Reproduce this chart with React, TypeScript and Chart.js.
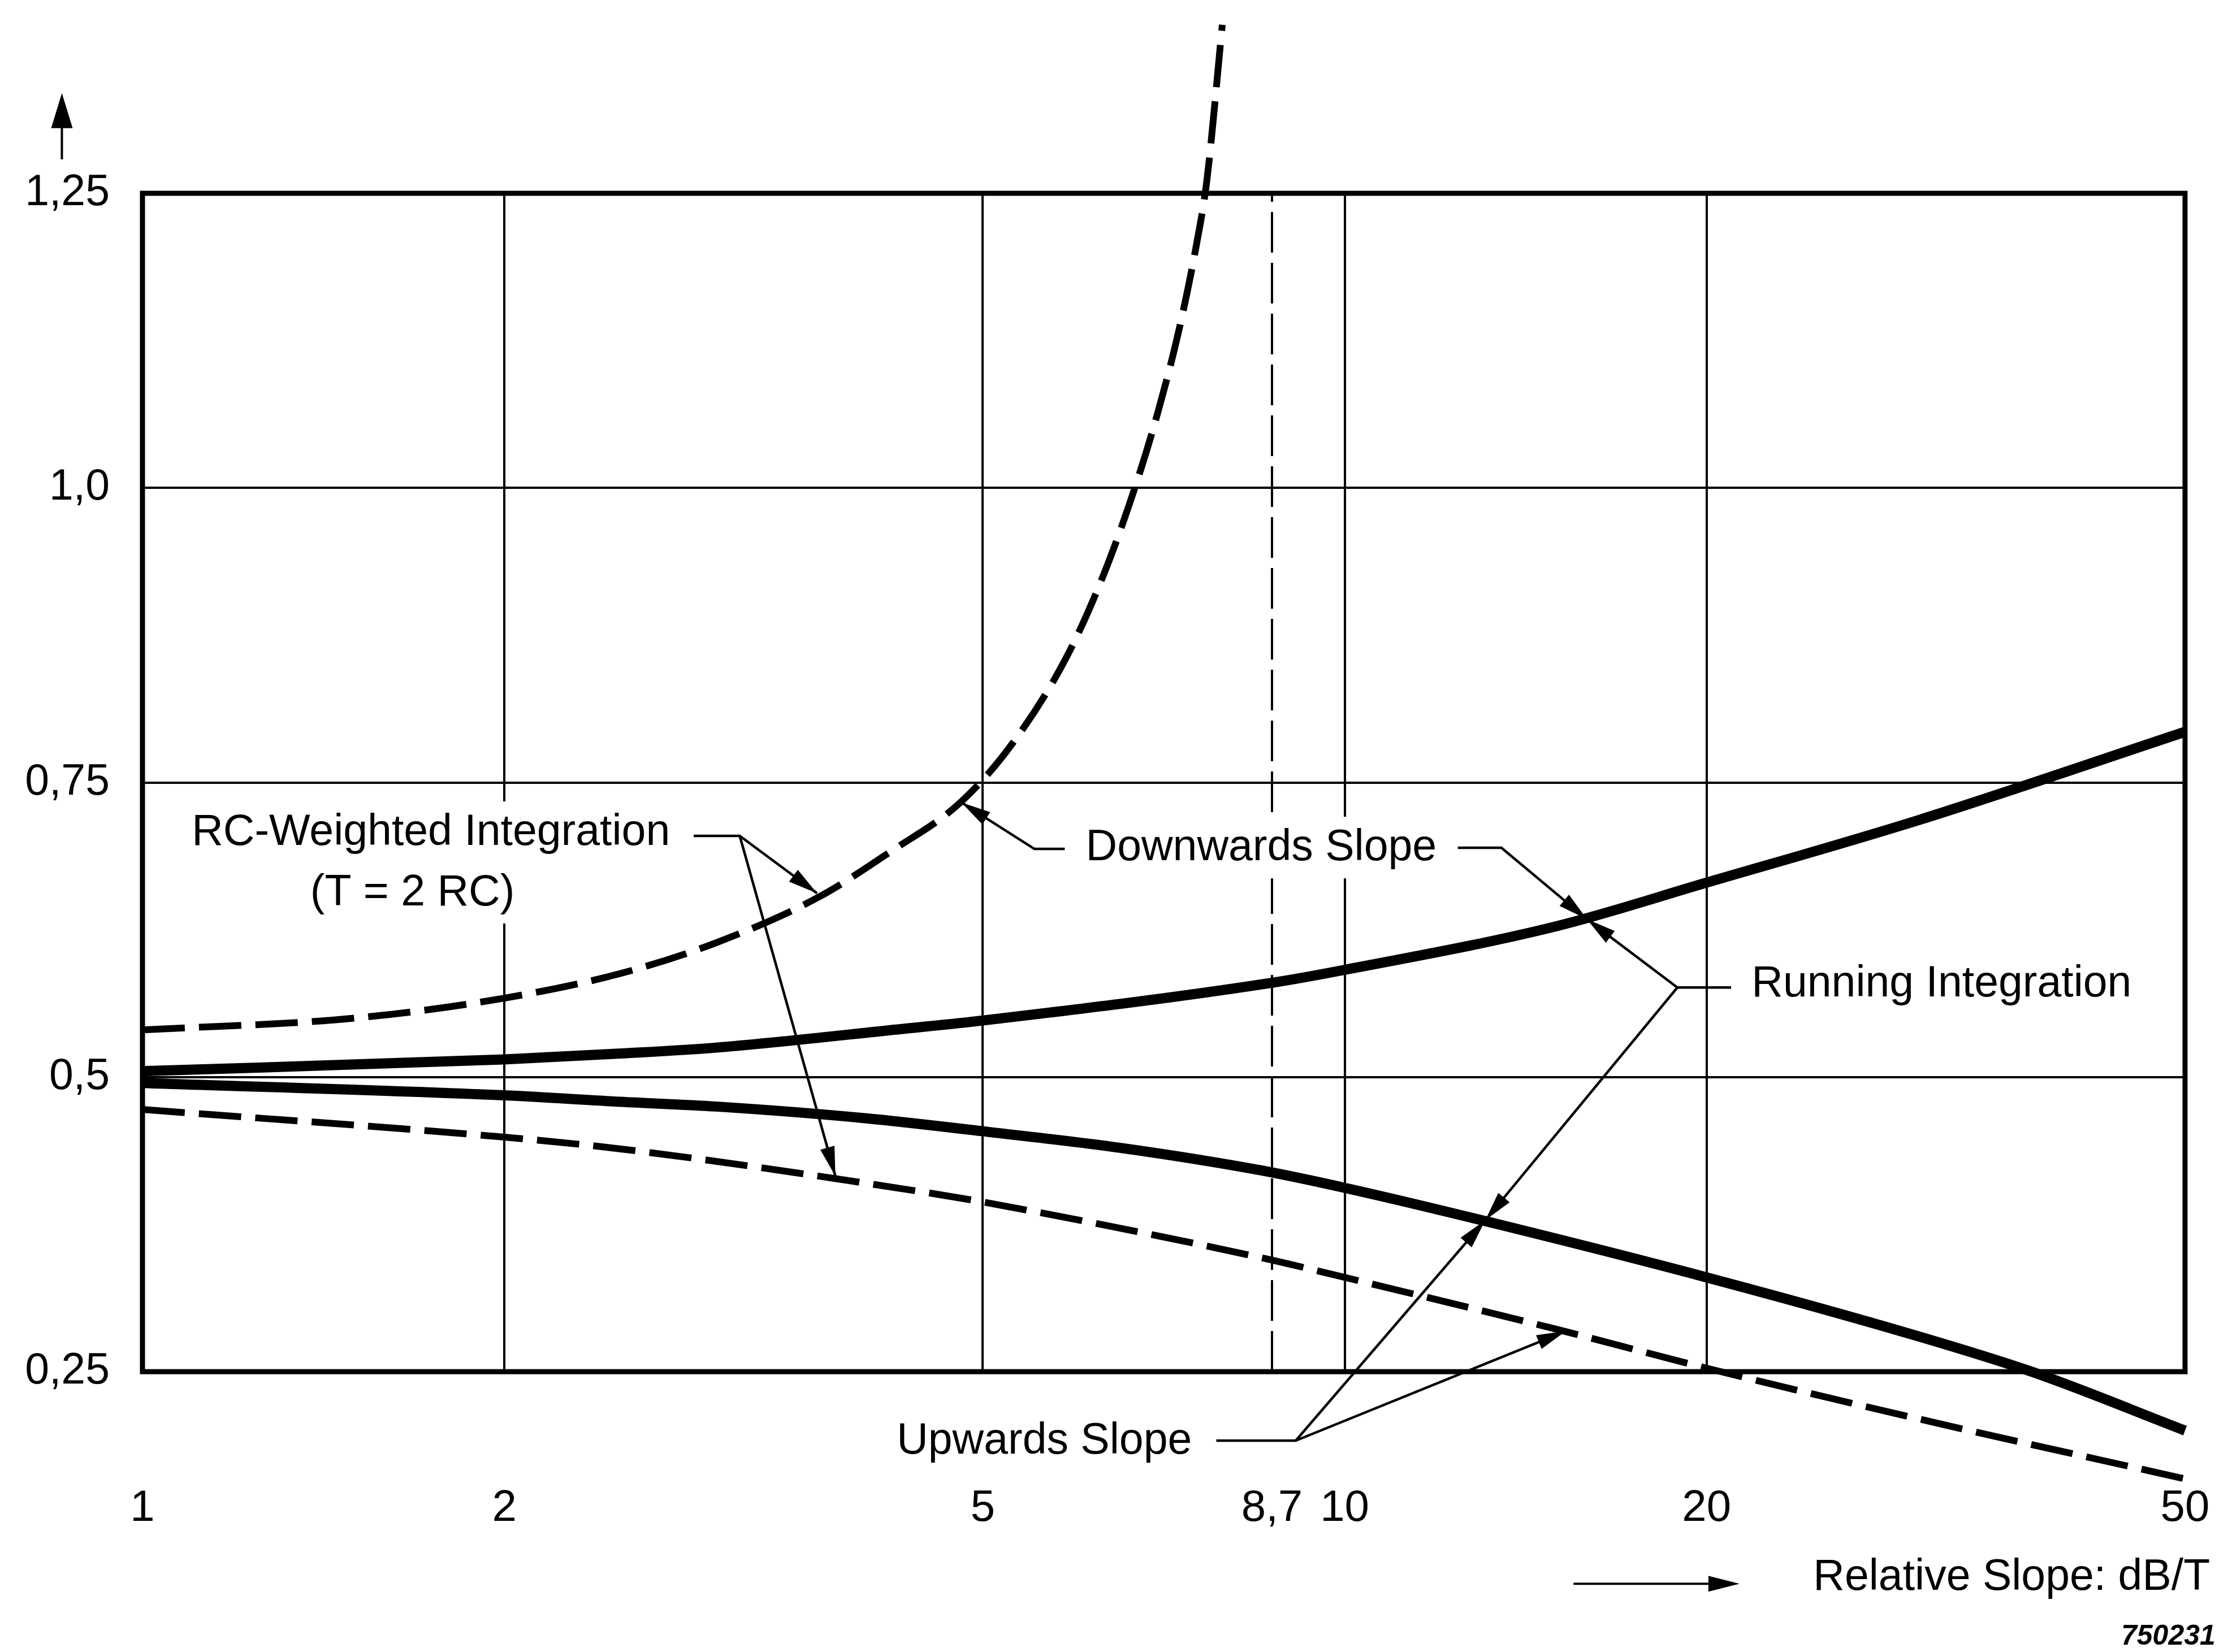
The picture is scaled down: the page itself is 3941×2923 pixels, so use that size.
import React, { useEffect, useRef } from 'react';
import { Chart, registerables } from 'chart.js';

Chart.register(...registerables);

const FONT = "'Liberation Sans', Arial, Helvetica, sans-serif";

// ---- axes ----
const X_TICKS = [1, 2, 5, 8.7, 10, 20, 50];
const X_TICK_LABELS = ['1', '2', '5', '8,7', '10', '20', '50'];
const Y_TICKS = [0.25, 0.5, 0.75, 1.0, 1.25];
const Y_TICK_LABELS = ['0,25', '0,5', '0,75', '1,0', '1,25'];
const MARKER_X = 8.7;

// ---- Running integration, downwards slope (upper solid) ----
const RUN_DOWN_X = [1, 2, 2.5, 3, 4.3, 5, 8.7, 10, 15, 20, 30, 50];
const RUN_DOWN_Y = [0.505, 0.515, 0.52, 0.525, 0.541, 0.548, 0.58, 0.591, 0.628, 0.665, 0.718, 0.793];

// ---- Running integration, upwards slope (lower solid) ----
const RUN_UP_X = [1, 2, 2.5, 3, 4, 5, 6.5, 8.5, 10, 13, 20, 30, 37.5, 50];
const RUN_UP_Y = [0.495, 0.4845, 0.479, 0.475, 0.465, 0.454, 0.44, 0.421, 0.406, 0.3785, 0.33, 0.28, 0.249, 0.2];

// ---- RC-weighted integration, downwards slope (upper dashed) ----
const RC_DOWN_X = [1, 1.5, 2, 2.5, 3, 3.64, 4.2, 4.79, 5.3, 5.86, 6.3, 6.71, 7.0, 7.28, 7.53, 7.68, 7.91];
const RC_DOWN_Y = [0.54, 0.55, 0.567, 0.588, 0.614, 0.652, 0.692, 0.733, 0.784, 0.855, 0.926, 1.004, 1.066, 1.134, 1.207, 1.261, 1.393];

// ---- RC-weighted integration, upwards slope (lower dashed) ----
const RC_UP_X = [1, 2, 2.5, 4.3, 5, 8.5, 10, 15, 20, 30, 50];
const RC_UP_Y = [0.4725, 0.449, 0.439, 0.405, 0.394, 0.347, 0.33, 0.286, 0.253, 0.21, 0.159];

// ---- annotations (data coordinates) ----
type Pt = [number, number];
const LEADERS: Pt[][] = [
  [[2.874, 0.7047], [3.139, 0.7047], [3.64, 0.656]],
  [[3.139, 0.7047], [3.77, 0.416]],
  [[5.85, 0.6936], [5.52, 0.6936], [4.8, 0.733]],
  [[12.42, 0.6946], [13.5, 0.6946], [15.9, 0.634]],
  [[20.96, 0.576], [18.91, 0.576], [15.9, 0.634]],
  [[18.91, 0.576], [13.09, 0.3785]],
  [[7.82, 0.1915], [9.105, 0.1915], [13.09, 0.3785]],
  [[9.105, 0.1915], [15.28, 0.2845]],
];

const LABELS: { text: string; x: number; y: number; box: boolean }[] = [
  { text: 'RC-Weighted Integration', x: 1.099, y: 0.697, box: true },
  { text: '(T = 2 RC)', x: 1.379, y: 0.6457, box: true },
  { text: 'Downwards Slope', x: 6.09, y: 0.684, box: true },
  { text: 'Running Integration', x: 21.8, y: 0.5685, box: false },
  { text: 'Upwards Slope', x: 4.24, y: 0.1805, box: false },
  { text: 'Relative Slope: dB/T', x: 24.53, y: 0.0649, box: false },
];

const Y_ARROW: Pt[] = [[0.857, 1.2788], [0.857, 1.335]];
const X_ARROW: Pt[] = [[15.5, 0.07], [21.3, 0.07]];
const FIGURE_ID = { text: '750231', x: 53.0, y: 0.0183 };

const toPoints = (xs: number[], ys: number[]) => xs.map((x, i) => ({ x, y: ys[i] }));

function drawArrowHead(ctx: CanvasRenderingContext2D, fx: number, fy: number, tx: number, ty: number, len: number, hw: number) {
  const a = Math.atan2(ty - fy, tx - fx);
  const c = Math.cos(a);
  const s = Math.sin(a);
  const bx = tx - len * c;
  const by = ty - len * s;
  ctx.beginPath();
  ctx.moveTo(tx, ty);
  ctx.lineTo(bx - hw * s, by + hw * c);
  ctx.lineTo(bx + hw * s, by - hw * c);
  ctx.closePath();
  ctx.fill();
}

export default function App() {
  const ref = useRef<HTMLCanvasElement>(null);

  useEffect(() => {
    const canvas = ref.current;
    if (!canvas) return;

    const plugin = {
      id: 'annotations',
      beforeDatasetsDraw(chart: any) {
        const { ctx, chartArea } = chart;
        ctx.save();
        ctx.strokeStyle = '#000';
        ctx.lineWidth = 9;
        ctx.strokeRect(chartArea.left, chartArea.top, chartArea.right - chartArea.left, chartArea.bottom - chartArea.top);
        ctx.restore();
      },
      afterDatasetsDraw(chart: any) {
        const { ctx } = chart;
        const xs = chart.scales.x;
        const ys = chart.scales.y;
        const px = (v: number) => xs.getPixelForValue(v);
        const py = (v: number) => ys.getPixelForValue(v);
        ctx.save();
        ctx.fillStyle = '#000';
        ctx.strokeStyle = '#000';

        // label backgrounds
        ctx.font = `77px ${FONT}`;
        for (const l of LABELS) {
          if (!l.box) continue;
          const w = ctx.measureText(l.text).width;
          const x0 = px(l.x);
          const y0 = py(l.y);
          ctx.fillStyle = '#fff';
          ctx.fillRect(x0 - 14, y0 - 55 - 22, w + 28, 55 + 22 + 32);
        }
        ctx.fillStyle = '#000';

        // labels
        ctx.textAlign = 'left';
        ctx.textBaseline = 'alphabetic';
        for (const l of LABELS) {
          ctx.fillText(l.text, px(l.x), py(l.y));
        }

        // leaders
        ctx.lineWidth = 4.5;
        ctx.lineJoin = 'miter';
        for (const path of LEADERS) {
          ctx.beginPath();
          path.forEach(([vx, vy], i) => {
            if (i === 0) ctx.moveTo(px(vx), py(vy));
            else ctx.lineTo(px(vx), py(vy));
          });
          ctx.stroke();
          const n = path.length;
          drawArrowHead(ctx, px(path[n - 2][0]), py(path[n - 2][1]), px(path[n - 1][0]), py(path[n - 1][1]), 52, 13);
        }

        // axis arrows
        ctx.lineWidth = 4;
        ctx.beginPath();
        ctx.moveTo(px(Y_ARROW[0][0]), py(Y_ARROW[0][1]));
        ctx.lineTo(px(Y_ARROW[1][0]), py(Y_ARROW[1][1]) + 30);
        ctx.stroke();
        drawArrowHead(ctx, px(Y_ARROW[0][0]), py(Y_ARROW[0][1]), px(Y_ARROW[1][0]), py(Y_ARROW[1][1]), 62, 19);

        ctx.beginPath();
        ctx.moveTo(px(X_ARROW[0][0]), py(X_ARROW[0][1]));
        ctx.lineTo(px(X_ARROW[1][0]) - 20, py(X_ARROW[1][1]));
        ctx.stroke();
        drawArrowHead(ctx, px(X_ARROW[0][0]), py(X_ARROW[0][1]), px(X_ARROW[1][0]), py(X_ARROW[1][1]), 55, 14);

        // figure id
        ctx.font = `italic bold 50px ${FONT}`;
        ctx.textAlign = 'right';
        ctx.fillText(FIGURE_ID.text, px(FIGURE_ID.x), py(FIGURE_ID.y));
        ctx.restore();
      },
    };

    const solid = { borderColor: '#000', borderWidth: 18, pointRadius: 0, cubicInterpolationMode: 'monotone' as const, clip: false as any, borderCapStyle: 'butt' as const };
    const dashed = { borderColor: '#000', borderWidth: 12, borderDash: [75, 25], pointRadius: 0, cubicInterpolationMode: 'monotone' as const, clip: false as any, borderCapStyle: 'butt' as const };

    const chart = new Chart(canvas, {
      type: 'line',
      data: {
        datasets: [
          { label: 'marker', data: [{ x: MARKER_X, y: Y_TICKS[0] }, { x: MARKER_X, y: Y_TICKS[Y_TICKS.length - 1] }], borderColor: '#000', borderWidth: 4, borderDash: [72, 18], pointRadius: 0 } as any,
          { label: 'Running Integration – Downwards Slope', data: toPoints(RUN_DOWN_X, RUN_DOWN_Y), ...solid },
          { label: 'Running Integration – Upwards Slope', data: toPoints(RUN_UP_X, RUN_UP_Y), ...solid },
          { label: 'RC-Weighted Integration – Downwards Slope', data: toPoints(RC_DOWN_X, RC_DOWN_Y), ...dashed },
          { label: 'RC-Weighted Integration – Upwards Slope', data: toPoints(RC_UP_X, RC_UP_Y), ...dashed },
        ],
      },
      options: {
        responsive: false,
        animation: false,
        devicePixelRatio: 1,
        layout: { padding: { left: 0, top: 342, right: 76, bottom: 196 } },
        plugins: { legend: { display: false }, tooltip: { enabled: false } },
        scales: {
          x: {
            type: 'logarithmic',
            min: 1,
            max: 50,
            afterBuildTicks: (scale: any) => {
              scale.ticks = X_TICKS.map((v) => ({ value: v }));
            },
            afterFit: (scale: any) => {
              scale.height = 300;
              scale.paddingLeft = 0;
              scale.paddingRight = 0;
            },
            ticks: {
              autoSkip: false,
              maxRotation: 0,
              padding: 0,
              color: '#000',
              font: { family: FONT, size: 78 },
              callback: (value: any) => {
                const i = X_TICKS.indexOf(Number(value));
                return i >= 0 ? X_TICK_LABELS[i] : '';
              },
            },
            grid: {
              drawTicks: true,
              tickLength: 196,
              tickWidth: 0,
              tickColor: 'rgba(0,0,0,0)',
              color: (c: any) => (c.tick && c.tick.value === MARKER_X ? 'rgba(0,0,0,0)' : '#000'),
              lineWidth: (c: any) => (c.tick && c.tick.value === MARKER_X ? 0 : 4),
            },
            border: { display: false },
          },
          y: {
            type: 'linear',
            min: 0.25,
            max: 1.25,
            afterBuildTicks: (scale: any) => {
              scale.ticks = Y_TICKS.map((v) => ({ value: v }));
            },
            afterFit: (scale: any) => {
              scale.width = 252;
              scale.paddingTop = 0;
              scale.paddingBottom = 0;
            },
            ticks: {
              padding: 58,
              color: '#000',
              font: { family: FONT, size: 77 },
              callback: (value: any) => {
                const i = Y_TICKS.indexOf(Number(value));
                return i >= 0 ? Y_TICK_LABELS[i] : '';
              },
            },
            grid: { drawTicks: false, color: '#000', lineWidth: 4 },
            border: { display: false },
          },
        },
      } as any,
      plugins: [plugin],
    });

    return () => chart.destroy();
  }, []);

  return (
    <div style={{ position: 'fixed', left: 0, top: 0, width: 3941, height: 2923, background: '#fff' }}>
      <canvas ref={ref} width={3941} height={2923} style={{ display: 'block', width: 3941, height: 2923 }} />
    </div>
  );
}
